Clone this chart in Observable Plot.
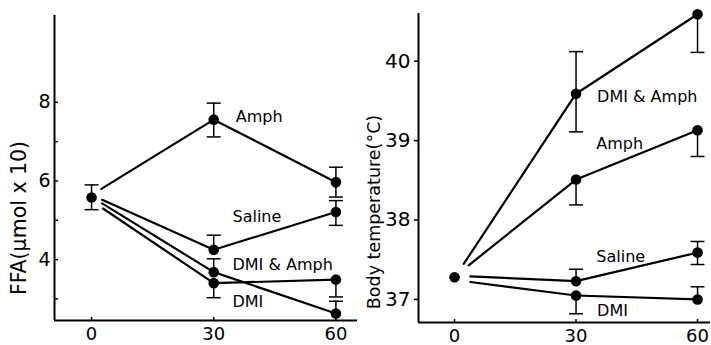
<!DOCTYPE html>
<html><head><meta charset="utf-8">
<script src="https://cdn.jsdelivr.net/npm/d3@7"></script>
<script src="https://cdn.jsdelivr.net/npm/@observablehq/plot@0.6"></script>
<style>
body{margin:0;background:#fff;}
#wrap{display:flex;width:711px;height:345px;}
</style></head><body><div id="wrap"></div>
<script>
// ---- data ----
const minutes = [0, 30, 60];
const series = ["Amph", "Saline", "DMI & Amph", "DMI"];

// FFA panel (µmol x10)
const ffaBaseline = 5.58, ffaBaselineLo = 5.27, ffaBaselineHi = 5.90;
const ffaLineStart = [2.4, 2.6, 2.6, 2.8];            // minute where each line leaves the baseline dot
const ffaAmph      = [5.80, 7.56, 5.97];
const ffaAmphLo    = [null, 7.12, 5.59];
const ffaAmphHi    = [null, 7.98, 6.35];
const ffaSaline    = [5.52, 4.25, 5.21];
const ffaSalineLo  = [null, 4.25, 4.87];
const ffaSalineHi  = [null, 4.62, 5.50];
const ffaDmiAmph   = [5.43, 3.68, 2.63];
const ffaDmiAmphLo = [null, 3.68, 2.63];
const ffaDmiAmphHi = [null, 4.02, 2.94];
const ffaDmi       = [5.30, 3.40, 3.49];
const ffaDmiLo     = [null, 3.03, 3.05];
const ffaDmiHi     = [null, 3.40, 3.49];
const ffaTicks = [3, 4, 5, 6, 7, 8];
const ffaTickLabels = [4, 6, 8];
const ffaLabelX = [35.4, 34.6, 34.6, 34.6];
const ffaLabelY = [7.64, 5.08, 3.87, 2.92];

// Body temperature panel (°C)
const tBaseline = 37.28;
const tLineStart = [3.5, 3.9, 2.3, 3.9];
const tAmph      = [37.43, 38.51, 39.13];
const tAmphLo    = [null, 38.19, 38.80];
const tAmphHi    = [null, 38.51, 39.13];
const tSaline    = [37.29, 37.23, 37.59];
const tSalineLo  = [null, 37.23, 37.44];
const tSalineHi  = [null, 37.38, 37.73];
const tDmiAmph   = [37.45, 39.59, 40.59];
const tDmiAmphLo = [null, 39.11, 40.11];
const tDmiAmphHi = [null, 40.12, 40.59];
const tDmi       = [37.22, 37.05, 37.00];
const tDmiLo     = [null, 36.82, 37.00];
const tDmiHi     = [null, 37.05, 37.16];
const tTicks = [37, 38, 39, 40];
const tLabelX = [35.0, 35.0, 35.2, 35.2];
const tLabelY = [38.96, 37.54, 39.55, 36.86];

// ---- build tables ----
function build(vals, los, his, starts) {
  const lines = [], points = [], bars = [], caps = [];
  series.forEach((s, i) => {
    const v = vals[i], lo = los[i], hi = his[i];
    lines.push({s, t: starts[i], v: v[0]});
    for (let k = 1; k < 3; k++) {
      const t = minutes[k];
      lines.push({s, t, v: v[k]});
      points.push({s, t, v: v[k]});
      bars.push({t, lo: lo[k], hi: hi[k]});
      if (lo[k] < v[k]) caps.push({t, v: lo[k]});
      if (hi[k] > v[k]) caps.push({t, v: hi[k]});
    }
  });
  return {lines, points, bars, caps};
}
const ffa = build([ffaAmph, ffaSaline, ffaDmiAmph, ffaDmi],
                  [ffaAmphLo, ffaSalineLo, ffaDmiAmphLo, ffaDmiLo],
                  [ffaAmphHi, ffaSalineHi, ffaDmiAmphHi, ffaDmiHi], ffaLineStart);
ffa.points.push({s: "baseline", t: minutes[0], v: ffaBaseline});
ffa.bars.push({t: minutes[0], lo: ffaBaselineLo, hi: ffaBaselineHi});
ffa.caps.push({t: minutes[0], v: ffaBaselineLo}, {t: minutes[0], v: ffaBaselineHi});

const tmp = build([tAmph, tSaline, tDmiAmph, tDmi],
                  [tAmphLo, tSalineLo, tDmiAmphLo, tDmiLo],
                  [tAmphHi, tSalineHi, tDmiAmphHi, tDmiHi], tLineStart);
tmp.points.push({s: "baseline", t: minutes[0], v: tBaseline});

const capSymbol = {draw(ctx, size) { const w = Math.sqrt(size / Math.PI); ctx.moveTo(-w, 0); ctx.lineTo(w, 0); }};
const font = "'DejaVu Sans', sans-serif";

function panel(d, opts) {
  const labels = series.map((s, i) => ({s, x: opts.labelX[i], y: opts.labelY[i]}));
  return Plot.plot({
    width: opts.width, height: 345,
    marginLeft: opts.ml, marginRight: opts.mr, marginTop: opts.mt, marginBottom: opts.mb,
    x: {domain: opts.xd},
    y: {domain: opts.yd},
    style: {fontFamily: font, color: "black", background: "white", overflow: "visible"},
    marks: [
      Plot.axisX(minutes, {tickSize: -3, tickPadding: 10, fontSize: 18, strokeWidth: 1.5}),
      Plot.axisY(opts.ticks, {tickSize: opts.ts, tickPadding: opts.tp, fontSize: opts.yfs, strokeWidth: 1.5,
        tickFormat: opts.tf}),
      Plot.ruleX([opts.xd[0]], {strokeWidth: 2}),
      Plot.ruleY([opts.yd[0]], {strokeWidth: 2}),
      Plot.ruleX(d.bars, {x: "t", y1: "lo", y2: "hi", strokeWidth: 1.5}),
      Plot.dot(d.caps, {x: "t", y: "v", symbol: capSymbol, r: 7, stroke: "black", strokeWidth: 1.5}),
      Plot.line(d.lines, {x: "t", y: "v", z: "s", stroke: "black", strokeWidth: 2.2}),
      Plot.dot(d.points, {x: "t", y: "v", r: 5.3, fill: "black"}),
      Plot.text(labels, {x: "x", y: "y", text: "s", textAnchor: "start", fontSize: 16}),
      Plot.text([opts.title], {frameAnchor: "left", text: t => t, rotate: -90, textAnchor: "middle",
        lineAnchor: "middle", dx: opts.tdx, dy: opts.tdy, fontSize: opts.tfs})
    ]
  });
}

const left = panel(ffa, {
  width: 360, ml: 54, mr: 3, mt: 15, mb: 25, xd: [-9.1, 65.3], yd: [2.45, 10.21],
  ticks: ffaTicks, ts: -4, tp: 8, yfs: 19, tf: d => ffaTickLabels.includes(d) ? String(d) : "",
  labelX: ffaLabelX, labelY: ffaLabelY,
  title: "FFA(\u00b5mol x 10)", tdx: -35, tdy: 50, tfs: 20.5
});
const right = panel(tmp, {
  width: 351, ml: 58, mr: 1, mt: 13, mb: 23, xd: [-8.9, 63.2], yd: [36.71, 40.60],
  ticks: tTicks, ts: 4, tp: 4, yfs: 20, tf: d => String(d),
  labelX: tLabelX, labelY: tLabelY,
  title: "Body temperature(\u00b0C)", tdx: -44, tdy: 44, tfs: 17.5
});
document.getElementById("wrap").append(left, right);
</script></body></html>
